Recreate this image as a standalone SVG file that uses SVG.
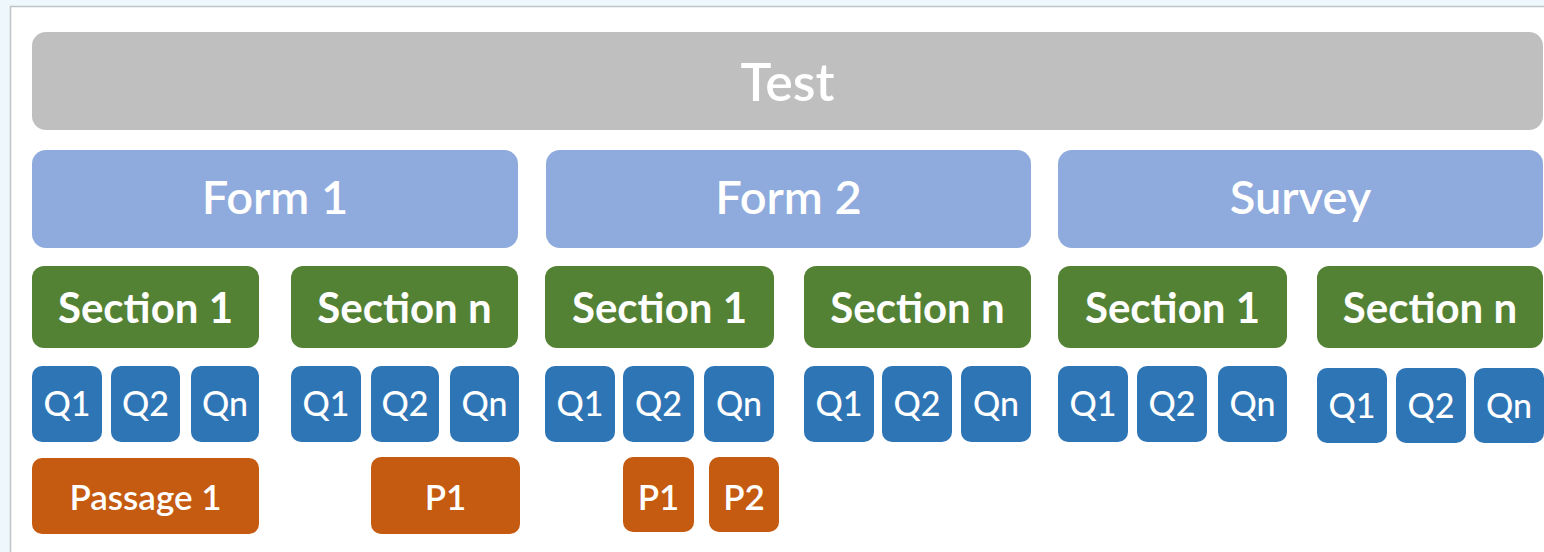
<svg xmlns="http://www.w3.org/2000/svg" width="1544" height="552" viewBox="0 0 1544 552">
  <style>
    text { font-family: Lato, "Open Sans", "Liberation Sans", sans-serif; fill: #FFFFFF; text-anchor: middle; }
    .test rect { fill: #BFBFBF; }
    .form rect { fill: #8FAADC; }
    .sec rect { fill: #548235; }
    .q rect { fill: #2E75B6; }
    .psg rect { fill: #C55A11; }
    .test text { font-size: 52px; font-weight: 600; }
    .form text { font-size: 47px; font-weight: 600; }
    .sec text { font-size: 42px; font-weight: bold; }
    .q text { font-size: 34px; font-weight: 500; }
    .psg text { font-size: 35px; font-weight: 600; }
  </style>

  <!-- page frame -->
  <rect x="0" y="0" width="1544" height="552" fill="#EEF7FB"/>
  <rect x="10.5" y="6.5" width="1545" height="560" fill="#FFFFFF" stroke="#BFC3C5" stroke-width="1.5"/>

  <!-- top level -->
  <g id="test" class="test">
    <rect x="32" y="32" width="1511" height="98" rx="14"/>
    <text x="787.5" y="100.5">Test</text>
  </g>

  <!-- forms -->
  <g id="form1" class="form">
    <rect x="32" y="150" width="486" height="98" rx="14"/>
    <text x="275" y="214">Form 1</text>
  </g>
  <g id="form2" class="form">
    <rect x="546" y="150" width="485" height="98" rx="14"/>
    <text x="788.5" y="214">Form 2</text>
  </g>
  <g id="survey" class="form">
    <rect x="1058" y="150" width="485" height="98" rx="14"/>
    <text x="1300.5" y="214">Survey</text>
  </g>

  <!-- sections -->
  <g id="form1-section1" class="sec">
    <rect x="32" y="266" width="227" height="82" rx="12"/>
    <text x="145.5" y="322.5">Section 1</text>
  </g>
  <g id="form1-sectionn" class="sec">
    <rect x="291" y="266" width="227" height="82" rx="12"/>
    <text x="404.5" y="322.5">Section n</text>
  </g>
  <g id="form2-section1" class="sec">
    <rect x="545" y="266" width="229" height="82" rx="12"/>
    <text x="659.5" y="322.5">Section 1</text>
  </g>
  <g id="form2-sectionn" class="sec">
    <rect x="804" y="266" width="227" height="82" rx="12"/>
    <text x="917.5" y="322.5">Section n</text>
  </g>
  <g id="survey-section1" class="sec">
    <rect x="1058" y="266" width="229" height="82" rx="12"/>
    <text x="1172.5" y="322.5">Section 1</text>
  </g>
  <g id="survey-sectionn" class="sec">
    <rect x="1317" y="266" width="226" height="82" rx="12"/>
    <text x="1430" y="322.5">Section n</text>
  </g>

  <!-- questions -->
  <g id="f1s1-q1" class="q"><rect x="32" y="366" width="70" height="76" rx="10"/><text x="67" y="416">Q1</text></g>
  <g id="f1s1-q2" class="q"><rect x="111" y="366" width="69" height="76" rx="10"/><text x="145.5" y="416">Q2</text></g>
  <g id="f1s1-qn" class="q"><rect x="191" y="366" width="68" height="76" rx="10"/><text x="225" y="416">Qn</text></g>

  <g id="f1sn-q1" class="q"><rect x="291" y="366" width="70" height="76" rx="10"/><text x="326" y="416">Q1</text></g>
  <g id="f1sn-q2" class="q"><rect x="371" y="366" width="68" height="76" rx="10"/><text x="405" y="416">Q2</text></g>
  <g id="f1sn-qn" class="q"><rect x="450" y="366" width="69" height="76" rx="10"/><text x="484.5" y="416">Qn</text></g>

  <g id="f2s1-q1" class="q"><rect x="545" y="366" width="70" height="76" rx="10"/><text x="580" y="416">Q1</text></g>
  <g id="f2s1-q2" class="q"><rect x="623" y="366" width="71" height="76" rx="10"/><text x="658.5" y="416">Q2</text></g>
  <g id="f2s1-qn" class="q"><rect x="704" y="366" width="70" height="76" rx="10"/><text x="739" y="416">Qn</text></g>

  <g id="f2sn-q1" class="q"><rect x="804" y="366" width="70" height="76" rx="10"/><text x="839" y="416">Q1</text></g>
  <g id="f2sn-q2" class="q"><rect x="882" y="366" width="70" height="76" rx="10"/><text x="917" y="416">Q2</text></g>
  <g id="f2sn-qn" class="q"><rect x="961" y="366" width="70" height="76" rx="10"/><text x="996" y="416">Qn</text></g>

  <g id="svs1-q1" class="q"><rect x="1058" y="366" width="70" height="76" rx="10"/><text x="1093" y="416">Q1</text></g>
  <g id="svs1-q2" class="q"><rect x="1137" y="366" width="70" height="76" rx="10"/><text x="1172" y="416">Q2</text></g>
  <g id="svs1-qn" class="q"><rect x="1218" y="366" width="69" height="76" rx="10"/><text x="1252.5" y="416">Qn</text></g>

  <g id="svsn-q1" class="q"><rect x="1317" y="368" width="70" height="75" rx="10"/><text x="1352" y="418">Q1</text></g>
  <g id="svsn-q2" class="q"><rect x="1396" y="368" width="70" height="75" rx="10"/><text x="1431" y="418">Q2</text></g>
  <g id="svsn-qn" class="q"><rect x="1474" y="368" width="70" height="75" rx="10"/><text x="1509" y="418">Qn</text></g>

  <!-- passages -->
  <g id="form1-passage1" class="psg">
    <rect x="32" y="458" width="227" height="76" rx="10"/>
    <text x="145.5" y="510">Passage 1</text>
  </g>
  <g id="form1-p1" class="psg">
    <rect x="371" y="457" width="149" height="77" rx="10"/>
    <text x="445.5" y="510">P1</text>
  </g>
  <g id="form2-p1" class="psg">
    <rect x="623" y="457" width="71" height="75" rx="10"/>
    <text x="658.5" y="510">P1</text>
  </g>
  <g id="form2-p2" class="psg">
    <rect x="709" y="457" width="70" height="75" rx="10"/>
    <text x="744" y="510">P2</text>
  </g>

  <g id="connectors"/>
</svg>
